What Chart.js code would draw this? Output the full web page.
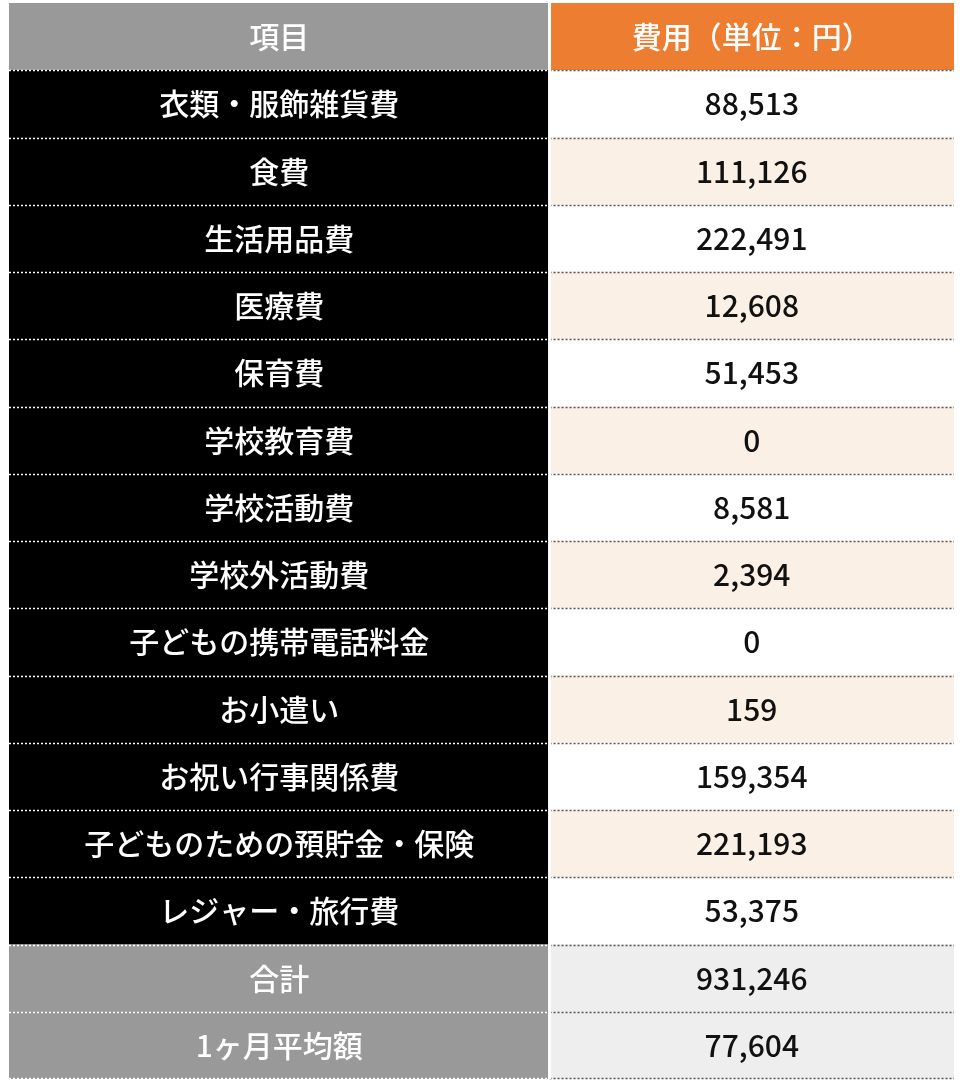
<!DOCTYPE html>
<html><head><meta charset="utf-8">
<script src="https://cdn.jsdelivr.net/npm/chart.js@4/dist/chart.umd.min.js"></script>
<style>html,body{margin:0;background:#fff}#wrap{width:964px;height:1088px}</style>
</head><body><div id="wrap"><canvas id="c"></canvas></div>
<script>
(function () {
  "use strict";
  var HEADERS = ["項目", "費用（単位：円）"];
  var ITEMS = ["衣類・服飾雑貨費", "食費", "生活用品費", "医療費", "保育費", "学校教育費", "学校活動費",
    "学校外活動費", "子どもの携帯電話料金", "お小遣い", "お祝い行事関係費", "子どものための預貯金・保険",
    "レジャー・旅行費", "合計", "1ヶ月平均額"];
  var COSTS = ["88,513", "111,126", "222,491", "12,608", "51,453", "0", "8,581", "2,394", "0", "159",
    "159,354", "221,193", "53,375", "931,246", "77,604"];

  var SPLIT = 0.572;
  var GRAY = "#999999", ORANGE = "#ED7D31", PEACH = "#FBF0E6", LIGHT = "#EEEEEE";
  var FONT = "'Noto Sans CJK JP', 'Noto Sans', sans-serif";

  var labels = ["h"].concat(ITEMS);
  var nTotal = 2;
  function kind(i) { return i === 0 ? "head" : (i > labels.length - 1 - nTotal ? "total" : "body"); }

  var leftBg = labels.map(function (l, i) { return kind(i) === "body" ? "#000000" : GRAY; });
  var rightBg = labels.map(function (l, i) {
    var k = kind(i);
    if (k === "head") return ORANGE;
    if (k === "total") return LIGHT;
    return i % 2 === 0 ? PEACH : "#ffffff";
  });

  var textPlugin = {
    id: "cells",
    afterDatasetsDraw: function (chart) {
      var ctx = chart.ctx, y = chart.scales.y, a = chart.chartArea;
      var xs = chart.scales.x.getPixelForValue(SPLIT);
      var m0 = chart.getDatasetMeta(0).data, m1 = chart.getDatasetMeta(1).data;
      ctx.save();
      ctx.textAlign = "center"; ctx.textBaseline = "middle";
      ctx.font = "500 30px " + FONT;
      labels.forEach(function (l, i) {
        var k = kind(i);
        var lt = i === 0 ? HEADERS[0] : ITEMS[i - 1];
        var rt = i === 0 ? HEADERS[1] : COSTS[i - 1];
        var c0 = m0[i].getCenterPoint(), c1 = m1[i].getCenterPoint();
        ctx.fillStyle = "#ffffff";
        ctx.fillText(lt, c0.x, c0.y);
        ctx.fillStyle = k === "head" ? "#ffffff" : "#111111";
        ctx.fillText(rt, c1.x, c1.y);
      });
      // row separators
      var step = Math.abs(y.getPixelForValue(1) - y.getPixelForValue(0));
      for (var i = 1; i <= labels.length; i++) {
        var py = Math.round(y.getPixelForValue(i) - step / 2) + 0.5;
        if (i === labels.length) py -= 1;
        ctx.lineWidth = 1.5; ctx.setLineDash([2, 2]);
        ctx.strokeStyle = "#ffffff";
        ctx.beginPath(); ctx.moveTo(a.left, py); ctx.lineTo(xs, py); ctx.stroke();
        ctx.strokeStyle = "#555555";
        ctx.beginPath(); ctx.moveTo(xs, py); ctx.lineTo(a.right, py); ctx.stroke();
      }
      ctx.setLineDash([]);
      ctx.strokeStyle = "#ffffff"; ctx.lineWidth = 3;
      ctx.beginPath(); ctx.moveTo(xs, a.top); ctx.lineTo(xs, a.bottom); ctx.stroke();
      ctx.restore();
    }
  };

  new Chart(document.getElementById("c"), {
    type: "bar",
    data: {
      labels: labels,
      datasets: [
        { data: labels.map(function () { return [0, SPLIT]; }), backgroundColor: leftBg, grouped: false },
        { data: labels.map(function () { return [SPLIT, 1]; }), backgroundColor: rightBg, grouped: false }
      ]
    },
    options: {
      indexAxis: "y", responsive: true, maintainAspectRatio: false, animation: false,
      layout: { padding: { left: 9, right: 10, top: 3, bottom: 9 } },
      datasets: { bar: { barPercentage: 1, categoryPercentage: 1, borderWidth: 0 } },
      scales: {
        x: { type: "linear", min: 0, max: 1, display: false },
        y: { display: false, offset: true }
      },
      plugins: { legend: { display: false }, tooltip: { enabled: false } }
    },
    plugins: [textPlugin]
  });
})();
</script></body></html>
